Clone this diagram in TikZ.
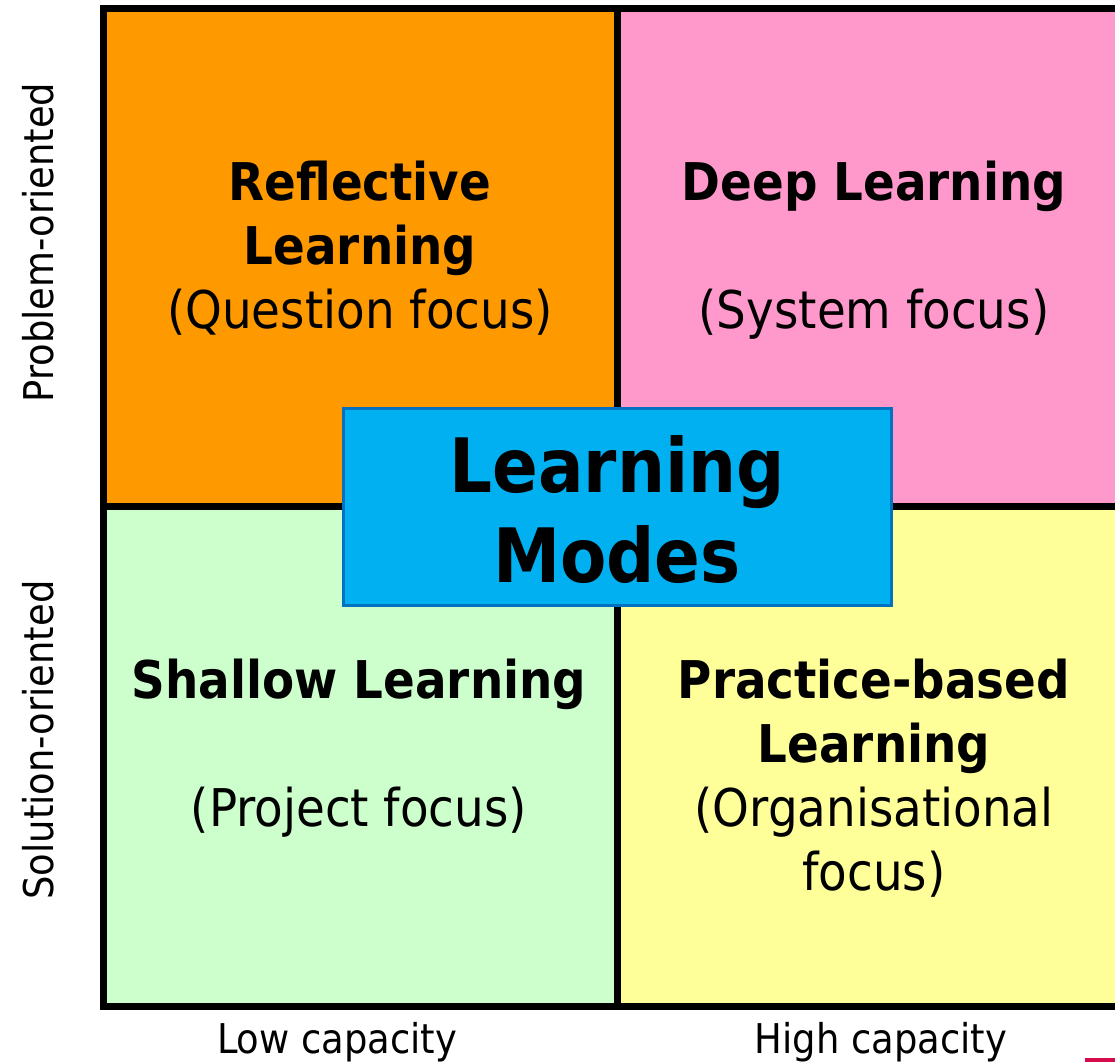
\documentclass[tikz,border=0pt]{standalone}
\usepackage{fontspec}
\setmainfont{DejaVu Sans Condensed}
\definecolor{qorange}{HTML}{FF9900}
\definecolor{qpink}{HTML}{FF99CC}
\definecolor{qgreen}{HTML}{CCFFCC}
\definecolor{qyellow}{HTML}{FFFF99}
\definecolor{cblue}{HTML}{00B0F0}
\definecolor{cblueline}{HTML}{0070C0}
\definecolor{cmark}{HTML}{D40A4B}
\begin{document}
\begin{tikzpicture}[x=1pt,y=-1pt,
  quad/.style={draw=black,line width=7pt,rectangle,inner sep=0pt,minimum width=514pt},
  title/.style={anchor=base,inner sep=0pt,font=\fontsize{52}{62}\selectfont\bfseries},
  sub/.style={anchor=base,inner sep=0pt,font=\fontsize{52}{62}\selectfont},
  axis/.style={anchor=base,inner sep=0pt,font=\fontsize{41}{49}\selectfont},
  center/.style={draw=cblueline,fill=cblue,line width=3pt,rectangle,inner sep=0pt,
    minimum width=548pt,minimum height=197pt},
  big/.style={anchor=base,inner sep=0pt,font=\fontsize{75}{90}\selectfont\bfseries}]
\useasboundingbox (0,0) rectangle (1115,1062);
\clip (0,0) rectangle (1115,1062);
% quadrants
\node[quad,fill=qorange,minimum height=498pt] (tl) at (360.5,257.5) {};
\node[quad,fill=qpink,minimum height=498pt] (tr) at (874.5,257.5) {};
\node[quad,fill=qgreen,minimum height=500pt] (bl) at (360.5,756.5) {};
\node[quad,fill=qyellow,minimum height=500pt] (br) at (874.5,756.5) {};
% quadrant texts
\node[title] (rl1) at (360,200) {Reflective};
\node[title] (rl2) at (360,264) {Learning};
\node[sub] (rl3) at (360,328) {(Question focus)};
\node[title] (dl1) at (874,200) {Deep Learning};
\node[sub] (dl3) at (874,328) {(System focus)};
\node[title] (sl1) at (359,698) {Shallow Learning};
\node[sub] (sl3) at (359,826) {(Project focus)};
\node[title] (pl1) at (874,698) {Practice-based};
\node[title] (pl2) at (874,762) {Learning};
\node[sub] (pl3) at (874,826) {(Organisational};
\node[sub] (pl4) at (874,890) {focus)};
% centre box
\node[center] (lm) at (617,506.5) {};
\node[big] (lm1) at (617,492) {Learning};
\node[big] (lm2) at (617,582) {Modes};
% axis labels
\node[axis,rotate=90] (po) at (53,242.5) {Problem-oriented};
\node[axis,rotate=90] (so) at (53,740) {Solution-oriented};
\node[axis] (lc) at (337,1053) {Low capacity};
\node[axis] (hc) at (881,1053) {High capacity};
% corner mark
\fill[cmark] (1085,1058) rectangle (1115,1062);
\end{tikzpicture}
\end{document}
